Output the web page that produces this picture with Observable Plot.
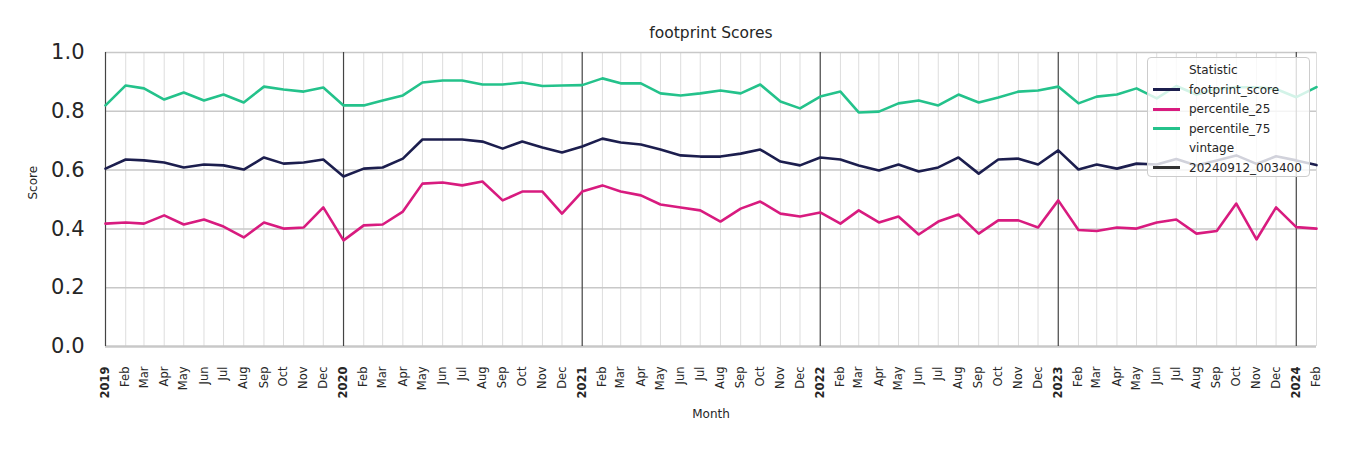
<!DOCTYPE html>
<html><head><meta charset="utf-8">
<script src="https://cdn.jsdelivr.net/npm/d3@7"></script>
<script src="https://cdn.jsdelivr.net/npm/@observablehq/plot@0.6"></script>
<style>
body{margin:0;background:#fff;font-family:"DejaVu Sans",sans-serif;}
#wrap{position:relative;width:1350px;height:450px;}
#legend{position:absolute;left:1147px;top:57px;width:161px;height:118px;background:rgba(255,255,255,0.8);border:1px solid #cccccc;border-radius:4px;font-size:12px;color:#262626;}
.row{position:absolute;left:0;width:161px;height:16px;line-height:16px;white-space:nowrap;}
.sw{position:absolute;left:5px;top:6.5px;width:27px;height:3px;}
.lb{position:absolute;left:41px;top:0;}
</style>
</head><body>
<div id="wrap"><div id="chart"></div><div id="legend"></div></div>
<script>
const statNames = ["footprint_score", "percentile_25", "percentile_75"];
const statColors = ["#1c1e4e", "#d81b7f", "#24c28b"];
const vintageName = "20240912_003400";
const vintageColor = "#333333";

const footprintScore = [
  0.605, 0.636, 0.633, 0.626, 0.609, 0.619, 0.616, 0.602, 0.643, 0.622, 0.626, 0.636,
  0.578, 0.605, 0.609, 0.639, 0.704, 0.704, 0.704, 0.697, 0.673, 0.697, 0.677, 0.660,
  0.680, 0.707, 0.694, 0.687, 0.670, 0.650, 0.646, 0.646, 0.656, 0.670, 0.629, 0.616,
  0.643, 0.636, 0.616, 0.599, 0.619, 0.595, 0.609, 0.643, 0.588, 0.636, 0.639, 0.619,
  0.667, 0.602, 0.619, 0.605, 0.622, 0.619, 0.638, 0.616, 0.633, 0.650, 0.621, 0.647,
  0.633, 0.617
];
const percentile25 = [
  0.418, 0.422, 0.418, 0.446, 0.415, 0.432, 0.408, 0.371, 0.422, 0.401, 0.405, 0.473,
  0.361, 0.412, 0.415, 0.459, 0.554, 0.558, 0.548, 0.561, 0.497, 0.527, 0.527, 0.452,
  0.527, 0.548, 0.527, 0.514, 0.483, 0.473, 0.463, 0.425, 0.469, 0.493, 0.452, 0.442,
  0.456, 0.418, 0.463, 0.422, 0.442, 0.381, 0.425, 0.449, 0.384, 0.429, 0.429, 0.405,
  0.497, 0.396, 0.393, 0.405, 0.401, 0.422, 0.432, 0.384, 0.393, 0.486, 0.364, 0.473,
  0.406, 0.401
];
const percentile75 = [
  0.820, 0.888, 0.878, 0.840, 0.864, 0.837, 0.857, 0.830, 0.884, 0.874, 0.867, 0.881,
  0.820, 0.820, 0.837, 0.854, 0.898, 0.905, 0.905, 0.891, 0.891, 0.898, 0.886, 0.888,
  0.889, 0.912, 0.895, 0.895, 0.861, 0.854, 0.861, 0.871, 0.861, 0.891, 0.833, 0.810,
  0.850, 0.867, 0.796, 0.799, 0.827, 0.837, 0.820, 0.857, 0.830, 0.847, 0.867, 0.871,
  0.884, 0.827, 0.850, 0.857, 0.878, 0.844, 0.886, 0.857, 0.876, 0.882, 0.882, 0.876,
  0.848, 0.882
];
const yTicks = [0, 0.2, 0.4, 0.6, 0.8, 1.0];
const titleText = "footprint Scores";
const xLabel = "Month";
const yLabel = "Score";

const months = d3.utcMonth.range(new Date(Date.UTC(2019, 0, 1)), new Date(Date.UTC(2024, 2, 1)));
const seriesValues = [footprintScore, percentile25, percentile75];
const data = [];
statNames.forEach((name, k) => seriesValues[k].forEach((v, i) => data.push({date: months[i], value: v, stat: name})));
const janMonths = months.filter(d => d.getUTCMonth() === 0);
const otherMonths = months.filter(d => d.getUTCMonth() !== 0);
const font = "'DejaVu Sans', sans-serif";

const chart = Plot.plot({
  width: 1350, height: 450,
  marginLeft: 105, marginRight: 34, marginTop: 52, marginBottom: 104,
  style: {fontFamily: font, background: "#ffffff", color: "#262626", overflow: "visible"},
  x: {type: "utc", domain: [months[0], months[months.length - 1]]},
  y: {domain: [0, 1]},
  color: {domain: statNames, range: statColors},
  marks: [
    Plot.ruleX(otherMonths, {stroke: "#dddddd", strokeWidth: 1}),
    Plot.ruleY(yTicks.slice(1), {stroke: "#c8c8c8", strokeWidth: 1.5}),
    Plot.ruleY([0], {stroke: "#c8c8c8", strokeWidth: 2.5}),
    Plot.ruleX(janMonths, {stroke: "#444444", strokeWidth: 1.2}),
    Plot.lineY(data, {x: "date", y: "value", z: "stat", stroke: "stat", strokeWidth: 2.6}),
    Plot.axisY(yTicks, {tickSize: 0, tickPadding: 21, fontSize: 21, tickFormat: d3.format(".1f"), label: null, color: "#262626"}),
    Plot.axisX(otherMonths, {tickSize: 0, tickPadding: 20, tickRotate: -90, fontSize: 11.5, tickFormat: d3.utcFormat("%b"), label: null, color: "#262626"}),
    Plot.axisX(janMonths, {tickSize: 0, tickPadding: 20, tickRotate: -90, fontSize: 11.5, fontWeight: "bold", tickFormat: d3.utcFormat("%Y"), label: null, color: "#262626"}),
    Plot.text([titleText], {text: d => d, frameAnchor: "top", lineAnchor: "middle", dy: -19, fontSize: 15.5, fill: "#262626"}),
    Plot.text([yLabel], {text: d => d, frameAnchor: "left", lineAnchor: "middle", dx: -72, rotate: -90, fontSize: 12, fill: "#262626"}),
    Plot.text([xLabel], {text: d => d, frameAnchor: "bottom", lineAnchor: "middle", dy: 68, fontSize: 12, fill: "#262626"})
  ]
});
document.getElementById("chart").appendChild(chart);

// legend
const legend = document.getElementById("legend");
const rows = [
  {label: "Statistic", color: null},
  ...statNames.map((n, i) => ({label: n, color: statColors[i]})),
  {label: "vintage", color: null},
  {label: vintageName, color: vintageColor}
];
const rowTops = [4, 23.5, 43, 62.5, 82, 101.5];
rows.forEach((r, i) => {
  const div = document.createElement("div");
  div.className = "row";
  div.style.top = rowTops[i] + "px";
  if (r.color) {
    const sw = document.createElement("div");
    sw.className = "sw";
    sw.style.background = r.color;
    div.appendChild(sw);
  }
  const lb = document.createElement("div");
  lb.className = "lb";
  lb.textContent = r.label;
  div.appendChild(lb);
  legend.appendChild(div);
});
</script>
</body></html>
